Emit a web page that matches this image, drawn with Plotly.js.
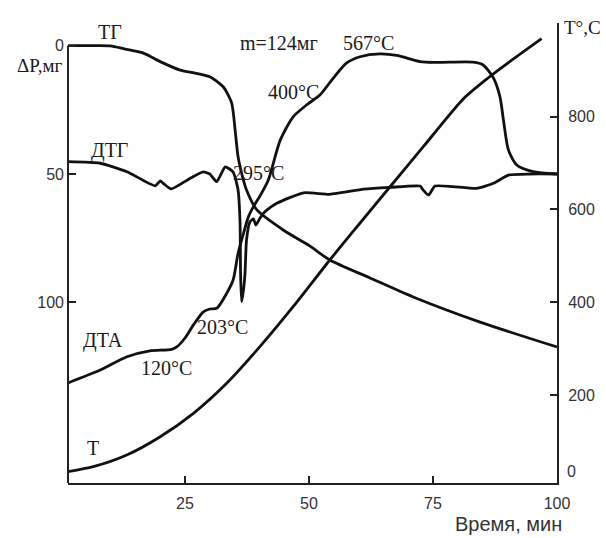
<!DOCTYPE html>
<html>
<head>
<meta charset="utf-8">
<script src="https://cdn.plot.ly/plotly-3.0.1.min.js"></script>
<style>html,body{margin:0;padding:0;background:#fff;}#chart{width:606px;height:538px;}</style>
</head>
<body>
<div id="chart"></div>
<script>
// ---- data ----
const tgTime = [1.4, 6.5, 9.9, 12.9, 16.5, 20.0, 24.0, 26.6, 30.0, 32.7, 34.4, 35.1, 35.7, 36.6, 37.4, 39.5, 44.8, 50.2, 54.2, 62.3, 71.0, 84.5, 100];
const tgMass = [0, 0, 0.1, 1.3, 2.8, 6.2, 9.5, 10.5, 12.1, 16.0, 22.3, 32.8, 43.3, 51.1, 56.2, 64.0, 71.8, 78.1, 83.5, 90.5, 97.9, 107.7, 117.4];

const dtgTime = [1.4, 7.9, 13.3, 19.0, 20.0, 20.6, 22.2, 26.0, 28.7, 30.0, 31.4, 33.1, 34.7, 35.7, 36.1, 36.2, 36.4, 36.8, 37.1, 37.4, 38.1, 38.8, 39.3, 40.1, 41.1, 43.5, 48.9, 54.2, 61.0, 66.3, 72.4, 73.0, 74.1, 75.4, 79.0, 83.8, 87.2, 90.2, 94.6, 100];
const dtgValue = [45.2, 45.8, 49.1, 54.6, 52.7, 53.6, 55.8, 51.7, 49.2, 50.0, 53.0, 47.2, 49.2, 56.2, 69.1, 88.6, 99.8, 95.0, 88.6, 75.7, 68.6, 67.5, 69.9, 67.2, 64.7, 61.4, 57.3, 57.9, 55.9, 55.2, 54.7, 56.2, 58.2, 54.7, 54.9, 55.6, 53.6, 50.4, 50.0, 50.0];

const dtaTime = [1.4, 7.9, 13.3, 17.9, 22.3, 23.4, 25.0, 26.7, 28.7, 30.0, 31.4, 33.4, 34.7, 35.7, 36.8, 37.8, 38.8, 40.1, 41.8, 44.2, 46.8, 49.5, 52.2, 54.9, 57.6, 60.3, 64.3, 67.7, 72.4, 75.7, 83.1, 85.1, 87.2, 88.5, 89.2, 90.2, 91.9, 95.2, 100];
const dtaValue = [131.4, 126.4, 121.2, 118.9, 118.3, 117.3, 113.9, 108.8, 103.7, 102.6, 102.3, 96.5, 91.3, 80.9, 73.1, 66.6, 62.7, 58.6, 52.3, 36.8, 27.7, 23.1, 19.2, 12.6, 6.7, 4.3, 3.2, 3.8, 6.2, 6.5, 6.4, 7.5, 12.6, 19.9, 28.9, 40.6, 46.5, 49.1, 50.0];

const tTime = [1.4, 6.5, 13.25, 20.0, 26.7, 33.4, 40.1, 46.8, 54.2, 60.3, 66.3, 73.0, 81.1, 86.1, 91.5, 96.9];
const tempValue = [34.6, 45.4, 70.6, 110.0, 160.5, 225.2, 304.1, 390.3, 491.0, 570.8, 648.4, 734.7, 838.2, 883.4, 926.6, 968.2];

const xTicks = [25, 50, 75, 100];
const leftTicks = [0, 50, 100];
const rightTicks = [200, 400, 600, 800, 1000];
const rightTickText = ["200", "400", "600", "800", ""];

// curve labels: [text, time, left-axis value]
const curveLabels = [
  ["ТГ", 9.9, -5.3],
  ["m=124мг", 44.0, -1.0],
  ["567°C", 61.9, -1.0],
  ["400°C", 46.8, 18.0],
  ["ДТГ", 9.7, 40.7],
  ["295°C", 39.8, 49.6],
  ["ДТА", 8.5, 114.7],
  ["120°C", 21.3, 125.6],
  ["203°C", 32.6, 109.6],
  ["Т", 6.5, 156.8]
];

const lineStyle = {color: '#111', width: 2.8, shape: 'spline', smoothing: 0.7};
const serif = {family: '"Liberation Serif", "DejaVu Serif", serif', size: 20, color: '#1a1a1a'};
const sans = {family: '"Liberation Sans", Arial, sans-serif', size: 16, color: '#333'};

const traces = [
  {x: tgTime, y: tgMass, mode: 'lines', line: lineStyle, yaxis: 'y', hoverinfo: 'skip'},
  {x: dtgTime, y: dtgValue, mode: 'lines', line: Object.assign({}, lineStyle, {smoothing: 0.5}), yaxis: 'y', hoverinfo: 'skip'},
  {x: dtaTime, y: dtaValue, mode: 'lines', line: lineStyle, yaxis: 'y', hoverinfo: 'skip'},
  {x: tTime, y: tempValue, mode: 'lines', line: lineStyle, yaxis: 'y2', hoverinfo: 'skip'}
];

const annotations = curveLabels.map(function (l) {
  return {text: l[0], x: l[1], y: l[2], xref: 'x', yref: 'y', showarrow: false, font: serif, xanchor: 'center', yanchor: 'middle'};
});
annotations.push({text: 'ΔP,мг', x: -0.059, y: 0.907, xref: 'paper', yref: 'paper', showarrow: false, font: Object.assign({}, serif, {size: 19}), xanchor: 'center', yanchor: 'middle'});
annotations.push({text: 'T°,C', x: 1.010, y: 0.991, xref: 'paper', yref: 'paper', showarrow: false, font: Object.assign({}, serif, {size: 19}), xanchor: 'left', yanchor: 'middle'});
annotations.push({text: '0', x: 1.017, y: 0.024, xref: 'paper', yref: 'paper', showarrow: false, font: sans, xanchor: 'left', yanchor: 'middle'});
annotations.push({text: 'Время, мин', x: 0.9, y: -0.090, xref: 'paper', yref: 'paper', showarrow: false, font: {family: sans.family, size: 20, color: '#333'}, xanchor: 'center', yanchor: 'middle'});

const layout = {
  width: 606, height: 538,
  margin: {l: 68, r: 49, t: 23, b: 55},
  paper_bgcolor: '#fff', plot_bgcolor: '#fff',
  showlegend: false,
  xaxis: {
    range: [1.41, 100], tickvals: xTicks, ticks: 'inside', ticklen: 7, tickwidth: 2, tickcolor: '#222',
    showline: true, linewidth: 2, linecolor: '#222', showgrid: false, zeroline: false,
    tickfont: sans, ticklabelstandoff: 5
  },
  yaxis: {
    range: [170.4, -8.85], tickvals: leftTicks, ticks: 'inside', ticklen: 8, tickwidth: 2, tickcolor: '#222',
    showline: false, showgrid: false, zeroline: false, tickfont: sans, ticklabelstandoff: 3
  },
  yaxis2: {
    overlaying: 'y', side: 'right', range: [10.2, 1002], tickvals: rightTicks, ticktext: rightTickText,
    ticks: 'inside', ticklen: 7, tickwidth: 2, tickcolor: '#222',
    showline: true, linewidth: 2, linecolor: '#222', showgrid: false, zeroline: false,
    tickfont: sans, ticklabelstandoff: 6
  },
  shapes: [
    {type: 'line', xref: 'paper', yref: 'y', x0: 0, x1: 0, y0: 0, y1: 170.4, line: {color: '#222', width: 2}}
  ],
  annotations: annotations
};

Plotly.newPlot('chart', traces, layout, {staticPlot: true, displayModeBar: false});
</script>
</body>
</html>
